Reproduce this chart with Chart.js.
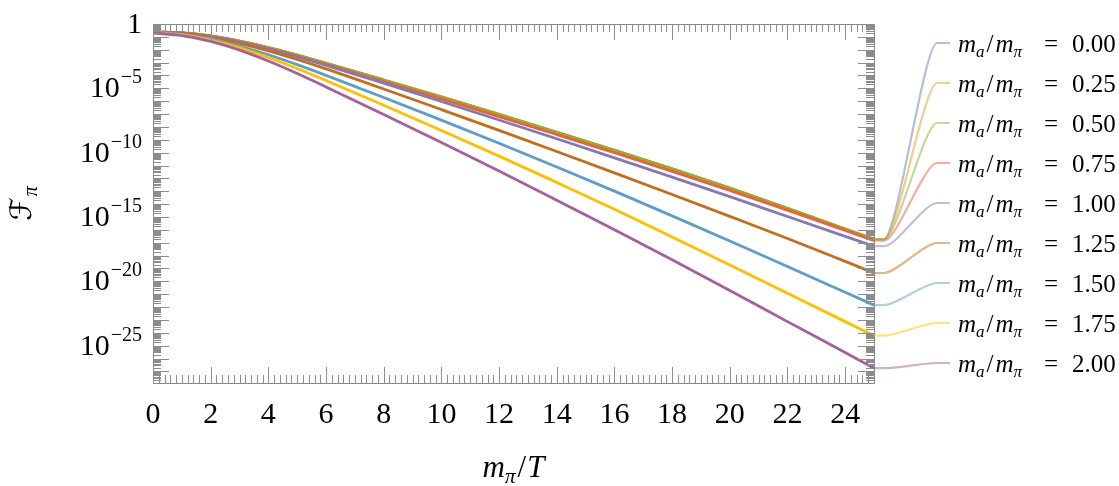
<!DOCTYPE html>
<html>
<head>
<meta charset="utf-8">
<script src="https://cdn.jsdelivr.net/npm/chart.js@4.4.1/dist/chart.umd.min.js"></script>
<style>
    html, body { margin: 0; padding: 0; background: #fff; }
    #wrap { width: 1119px; height: 486px; }
</style>
</head>
<body>
<div id="wrap"><canvas id="fpiChart" width="1119" height="486"></canvas></div>
<script>
// ================================================================
// DATA (log10 of F_pi)
// ================================================================
const mpiOverT = [0, 1, 2, 3, 4, 5, 6, 8, 10, 12, 14, 16, 18, 20, 22, 24, 25];

const logF_000 = [-0.61, -0.69, -0.93, -1.33, -1.84, -2.42, -3.05, -4.35, -5.67, -7.03, -8.41, -9.81, -11.25, -12.75, -14.33, -15.93, -16.73];
const logF_025 = [-0.61, -0.69, -0.93, -1.33, -1.84, -2.42, -3.05, -4.35, -5.67, -7.03, -8.41, -9.81, -11.25, -12.75, -14.33, -15.93, -16.73];
const logF_050 = [-0.62, -0.70, -0.94, -1.34, -1.85, -2.43, -3.06, -4.36, -5.68, -7.04, -8.42, -9.82, -11.26, -12.76, -14.34, -15.94, -16.74];
const logF_075 = [-0.62, -0.70, -0.95, -1.37, -1.90, -2.49, -3.14, -4.47, -5.82, -7.20, -8.59, -10.00, -11.45, -12.93, -14.47, -16.04, -16.84];
const logF_100 = [-0.63, -0.71, -0.98, -1.41, -1.95, -2.56, -3.22, -4.60, -6.02, -7.46, -8.92, -10.40, -11.90, -13.42, -14.96, -16.50, -17.27];
const logF_125 = [-0.63, -0.75, -1.05, -1.51, -2.09, -2.76, -3.49, -5.05, -6.65, -8.27, -9.91, -11.57, -13.25, -14.95, -16.67, -18.45, -19.35];
const logF_150 = [-0.64, -0.80, -1.16, -1.71, -2.39, -3.16, -3.99, -5.71, -7.47, -9.27, -11.11, -12.99, -14.91, -16.87, -18.85, -20.85, -21.85];
const logF_175 = [-0.65, -0.85, -1.25, -1.85, -2.60, -3.46, -4.39, -6.31, -8.27, -10.27, -12.31, -14.39, -16.55, -18.73, -20.93, -23.13, -24.22];
const logF_200 = [-0.70, -0.90, -1.35, -2.03, -2.88, -3.85, -4.89, -7.03, -9.21, -11.43, -13.69, -15.99, -18.33, -20.71, -23.13, -25.53, -26.75];

const ratios  = ['0.00', '0.25', '0.50', '0.75', '1.00', '1.25', '1.50', '1.75', '2.00'];
const series  = [logF_000, logF_025, logF_050, logF_075, logF_100, logF_125, logF_150, logF_175, logF_200];
const colors  = ['#5E81B5', '#E19C24', '#8FB032', '#EB6235', '#8778B3', '#C56E1A', '#5D9EC7', '#FFBF00', '#A5609D'];

const xTickLabels  = [0, 2, 4, 6, 8, 10, 12, 14, 16, 18, 20, 22, 24];
const yTickDecades = [0, -5, -10, -15, -20, -25];

const SERIF = "'Liberation Serif', 'DejaVu Serif', serif";
const TICK_COLOR = '#8c8c8c';

// ================================================================
// HELPERS
// ================================================================
// draw a row of text pieces (for sub/superscripts), returns total width
function drawRuns(ctx, runs, x, y, measureOnly) {
    let cx = x;
    runs.forEach(r => {
        ctx.font = r.font;
        if (r.at !== undefined) cx = x + r.at;
        if (!measureOnly) ctx.fillText(r.t, cx + (r.dx || 0), y + (r.dy || 0));
        cx += ctx.measureText(r.t).width + (r.dx || 0);
    });
    return cx - x;
}

function tick(ctx, x1, y1, x2, y2) {
    ctx.beginPath(); ctx.moveTo(x1, y1); ctx.lineTo(x2, y2); ctx.stroke();
}

// ================================================================
// FRAME, TICKS, LABELS, CALLOUTS
// ================================================================
const mathFrame = {
    id: 'mathFrame',
    afterDraw(chart) {
        const ctx = chart.ctx, a = chart.chartArea;
        const xs = chart.scales.x, ys = chart.scales.y;
        ctx.save();

        // frame
        ctx.strokeStyle = '#888'; ctx.lineWidth = 1;
        ctx.strokeRect(Math.round(a.left) + 0.5, Math.round(a.top) + 0.5, Math.round(a.right - a.left), Math.round(a.bottom - a.top));

        // x ticks (top + bottom, pointing in)
        ctx.strokeStyle = TICK_COLOR;
        for (let k = 0; k <= 125; k++) {
            const px = Math.round(xs.getPixelForValue(k * 0.2)) + 0.5;
            const len = (k % 10 === 0) ? 16 : 8;
            tick(ctx, px, a.bottom, px, a.bottom - len);
            tick(ctx, px, a.top, px, a.top + len);
        }
        // y ticks (left + right)
        for (let d = -28; d <= 0; d++) {
            for (let m = 1; m <= 9; m++) {
                const v = m * Math.pow(10, d);
                if (v < ys.min || v > ys.max) continue;
                const py = Math.round(ys.getPixelForValue(v)) + 0.5;
                const len = (m === 1) ? 16 : 8;
                tick(ctx, a.left, py, a.left + len, py);
                tick(ctx, a.right, py, a.right - len, py);
            }
        }

        // tick labels
        ctx.fillStyle = '#000'; ctx.textBaseline = 'alphabetic';
        ctx.textAlign = 'center'; ctx.font = '30px ' + SERIF;
        xTickLabels.forEach(v => ctx.fillText(String(v), xs.getPixelForValue(v), 423));

        ctx.textAlign = 'left';
        yTickDecades.forEach(d => {
            const py = ys.getPixelForValue(Math.pow(10, d)) + 9;
            const runs = d === 0
                ? [{ t: '1', font: '30px ' + SERIF }]
                : [{ t: '10', font: '30px ' + SERIF }, { t: '\u2212' + (-d), font: '20px ' + SERIF, dy: -14, dx: 1 }];
            const w = drawRuns(ctx, runs, 0, 0, true);
            drawRuns(ctx, runs, 142 - w, py);
        });

        // axis titles
        const xt = [
            { t: 'm', font: 'italic 31px ' + SERIF },
            { t: '\u03C0', font: 'italic 21px ' + SERIF, dy: 6 },
            { t: '/', font: '31px ' + SERIF, dx: 2 },
            { t: 'T', font: 'italic 31px ' + SERIF, dx: 1 }
        ];
        const xw = drawRuns(ctx, xt, 0, 0, true);
        drawRuns(ctx, xt, (a.left + a.right) / 2 - xw / 2, 477);

        ctx.save();
        ctx.translate(31, (a.top + a.bottom) / 2);
        ctx.rotate(-Math.PI / 2);
        const yt = [
            { t: '\u2131', font: "30px 'DejaVu Serif', 'DejaVu Sans', serif" },
            { t: '\u03C0', font: 'italic 20px ' + SERIF, dy: 6, dx: 1 }
        ];
        const yw = drawRuns(ctx, yt, 0, 0, true);
        drawRuns(ctx, yt, -yw / 2, 0);
        ctx.restore();

        // callout labels
        const x0 = a.right, x1 = 884, x2 = 937, x3 = 950;
        chart.data.datasets.forEach((ds, i) => {
            const last = ds.data[ds.data.length - 1];
            const y0 = ys.getPixelForValue(last.y);
            const yl = 43 + 40 * i;
            ctx.globalAlpha = 0.5; ctx.strokeStyle = colors[i]; ctx.lineWidth = 2.2;
            ctx.beginPath();
            ctx.moveTo(x0, y0); ctx.lineTo(x1, y0);
            ctx.bezierCurveTo(x1 + 13, y0, x2 - 13, yl, x2, yl);
            ctx.lineTo(x3, yl);
            ctx.stroke();
            ctx.globalAlpha = 1;

            ctx.fillStyle = '#000';
            drawRuns(ctx, [
                { t: 'm', font: 'italic 25px ' + SERIF },
                { t: 'a', font: 'italic 17px ' + SERIF, dy: 5 },
                { t: '/', font: '25px ' + SERIF, dx: 2 },
                { t: 'm', font: 'italic 25px ' + SERIF, dx: 2 },
                { t: '\u03C0', font: 'italic 17px ' + SERIF, dy: 5 },
                { t: '=', font: '25px ' + SERIF, at: 86 },
                { t: ratios[i], font: '25px ' + SERIF, at: 114 }
            ], 958, yl + 9);
        });

        ctx.restore();
    }
};

// ================================================================
// CHART
// ================================================================
const datasets = series.map((s, i) => ({
    label: 'm_a/m_pi = ' + ratios[i],
    data: s.map((v, j) => ({ x: mpiOverT[j], y: Math.pow(10, v) })),
    borderColor: colors[i],
    borderWidth: 2.8,
    pointRadius: 0,
    fill: false,
    cubicInterpolationMode: 'monotone',
    order: series.length - i
}));

new Chart(document.getElementById('fpiChart').getContext('2d'), {
    type: 'line',
    data: { datasets },
    options: {
        responsive: false,
        animation: false,
        layout: { padding: { left: 153, right: 245, top: 24, bottom: 103 } },
        plugins: { legend: { display: false }, tooltip: { enabled: false } },
        scales: {
            x: {
                type: 'linear', min: 0, max: 25,
                ticks: { display: false }, grid: { display: false }, border: { display: false },
                afterFit: s => { s.height = 0; }
            },
            y: {
                type: 'logarithmic', min: Math.pow(10, -27.9), max: 1,
                ticks: { display: false }, grid: { display: false }, border: { display: false },
                afterFit: s => { s.width = 0; }
            }
        }
    },
    plugins: [mathFrame]
});
</script>
</body>
</html>
